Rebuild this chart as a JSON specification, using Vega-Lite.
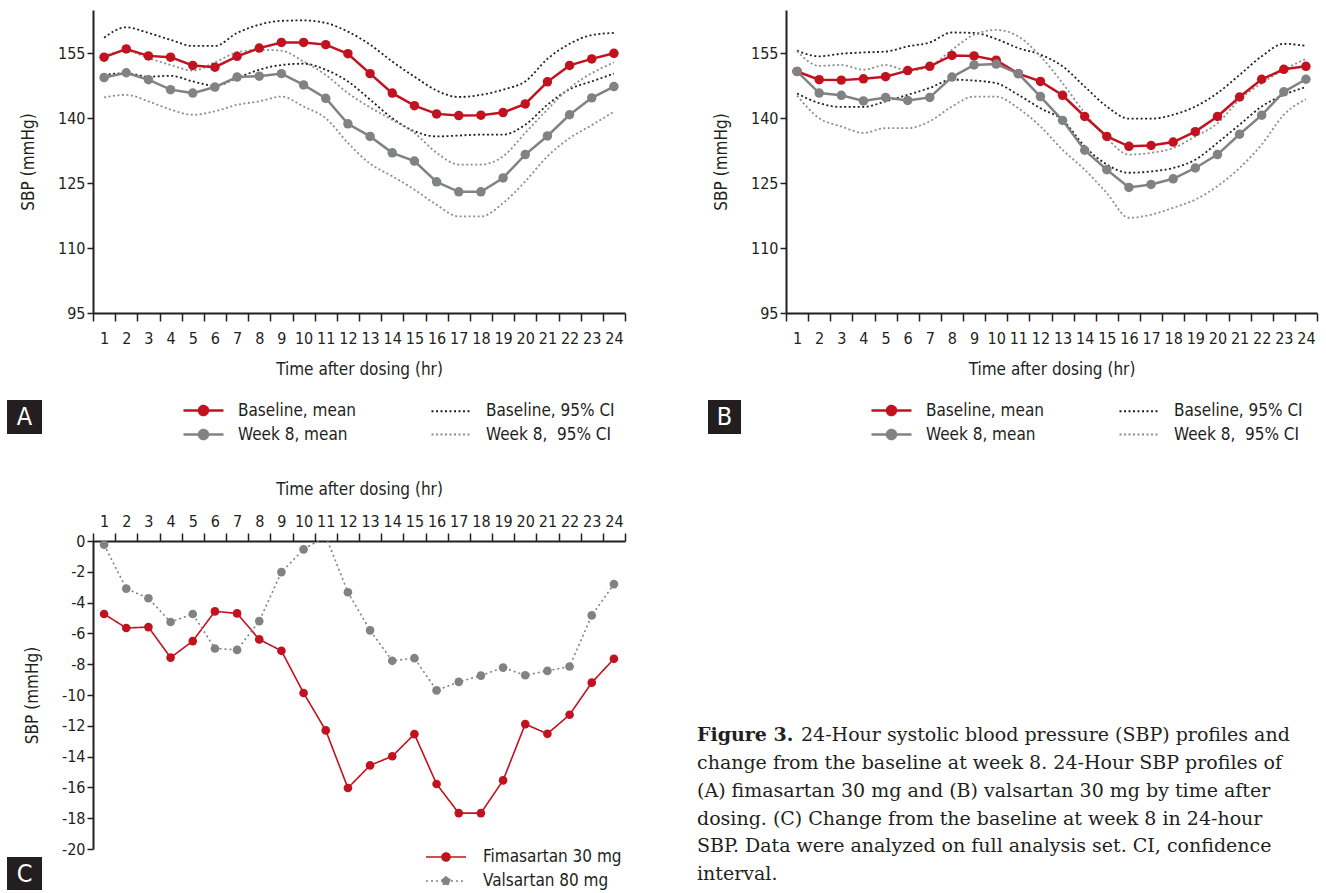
{
"$schema":"https://vega.github.io/schema/vega-lite/v6.json",
"background":"white",
"padding":{"left":7,"top":10,"right":2,"bottom":2},
"bounds":"flush",
"columns":5,
"align":{"row":"each","column":"each"},
"spacing":{"row":87,"column":0},
"resolve":{"scale":{"x":"independent","y":"independent","color":"independent","strokeDash":"independent"},"legend":{"color":"independent"}},
"config":{
 "view":{"stroke":null},
 "font":"Liberation Sans Narrow, DejaVu Sans Condensed, sans-serif",
 "axis":{"domainColor":"#231f20","domainWidth":2,"tickColor":"#231f20","tickWidth":1.5,"labelColor":"#231f20","labelFont":"Liberation Sans Narrow, DejaVu Sans Condensed, sans-serif","labelFontSize":16,"titleFont":"Liberation Sans Narrow, DejaVu Sans Condensed, sans-serif","titleFontSize":17,"titleFontWeight":"normal","titleColor":"#231f20","grid":false},
 "legend":{"labelFont":"Liberation Sans Narrow, DejaVu Sans Condensed, sans-serif","labelFontSize":17,"labelColor":"#231f20","padding":0,"labelLimit":400}
},
"datasets":{
 "A":[
  {"h":1,"bm":154.1,"wm":149.4,"bl":150.0,"bu":158.6,"wl":144.8,"wu":154.3},
  {"h":2,"bm":156.0,"wm":150.5,"bl":150.4,"bu":161.0,"wl":145.4,"wu":155.6},
  {"h":3,"bm":154.4,"wm":148.9,"bl":149.6,"bu":159.7,"wl":143.9,"wu":153.9},
  {"h":4,"bm":154.1,"wm":146.6,"bl":149.8,"bu":158.1,"wl":142.0,"wu":152.3},
  {"h":5,"bm":152.2,"wm":145.8,"bl":148.5,"bu":156.7,"wl":140.8,"wu":151.0},
  {"h":6,"bm":151.8,"wm":147.2,"bl":147.5,"bu":156.7,"wl":141.6,"wu":152.9},
  {"h":7,"bm":154.3,"wm":149.5,"bl":149.3,"bu":159.7,"wl":143.1,"wu":155.2},
  {"h":8,"bm":156.2,"wm":149.7,"bl":151.2,"bu":161.6,"wl":143.9,"wu":155.8},
  {"h":9,"bm":157.5,"wm":150.3,"bl":152.3,"bu":162.5,"wl":145.0,"wu":155.6},
  {"h":10,"bm":157.5,"wm":147.7,"bl":152.6,"bu":162.6,"wl":142.7,"wu":153.1},
  {"h":11,"bm":157.0,"wm":144.6,"bl":151.2,"bu":162.0,"wl":140.0,"wu":150.0},
  {"h":12,"bm":154.9,"wm":138.7,"bl":148.5,"bu":160.0,"wl":134.3,"wu":145.8},
  {"h":13,"bm":150.3,"wm":135.8,"bl":144.3,"bu":157.0,"wl":129.5,"wu":142.5},
  {"h":14,"bm":145.8,"wm":132.0,"bl":140.0,"bu":153.1,"wl":126.6,"wu":139.6},
  {"h":15,"bm":142.9,"wm":130.1,"bl":137.0,"bu":149.6,"wl":123.5,"wu":136.6},
  {"h":16,"bm":141.0,"wm":125.3,"bl":135.8,"bu":146.4,"wl":120.0,"wu":132.0},
  {"h":17,"bm":140.6,"wm":123.0,"bl":136.0,"bu":144.9,"wl":117.3,"wu":129.3},
  {"h":18,"bm":140.7,"wm":123.0,"bl":136.2,"bu":145.4,"wl":117.3,"wu":129.3},
  {"h":19,"bm":141.3,"wm":126.2,"bl":136.2,"bu":146.6,"wl":120.4,"wu":131.2},
  {"h":20,"bm":143.3,"wm":131.6,"bl":138.5,"bu":148.5,"wl":125.4,"wu":136.6},
  {"h":21,"bm":148.4,"wm":135.9,"bl":143.1,"bu":153.7,"wl":131.2,"wu":142.0},
  {"h":22,"bm":152.2,"wm":140.8,"bl":146.7,"bu":157.2,"wl":135.4,"wu":147.0},
  {"h":23,"bm":153.7,"wm":144.7,"bl":148.5,"bu":159.2,"wl":138.4,"wu":150.4},
  {"h":24,"bm":155.0,"wm":147.3,"bl":150.3,"bu":159.7,"wl":141.5,"wu":152.9}
 ],
 "B":[
  {"h":1,"bm":150.8,"wm":150.8,"bl":145.7,"bu":155.6,"wl":145.2,"wu":155.5},
  {"h":2,"bm":148.9,"wm":145.8,"bl":143.5,"bu":154.3,"wl":140.0,"wu":152.1},
  {"h":3,"bm":148.8,"wm":145.3,"bl":142.6,"bu":154.9,"wl":138.1,"wu":152.3},
  {"h":4,"bm":149.1,"wm":144.0,"bl":142.6,"bu":155.2,"wl":136.6,"wu":151.2},
  {"h":5,"bm":149.6,"wm":144.8,"bl":143.9,"bu":155.4,"wl":137.7,"wu":152.3},
  {"h":6,"bm":151.0,"wm":144.1,"bl":145.4,"bu":156.6,"wl":137.7,"wu":151.0},
  {"h":7,"bm":152.0,"wm":144.8,"bl":147.0,"bu":157.5,"wl":139.3,"wu":152.0},
  {"h":8,"bm":154.5,"wm":149.5,"bl":148.9,"bu":159.8,"wl":142.7,"wu":155.8},
  {"h":9,"bm":154.4,"wm":152.3,"bl":148.7,"bu":159.7,"wl":145.0,"wu":159.3},
  {"h":10,"bm":153.4,"wm":152.5,"bl":148.1,"bu":158.3,"wl":145.0,"wu":160.4},
  {"h":11,"bm":150.3,"wm":150.3,"bl":145.4,"bu":156.2,"wl":142.3,"wu":158.9},
  {"h":12,"bm":148.5,"wm":145.0,"bl":142.3,"bu":154.7,"wl":138.1,"wu":154.3},
  {"h":13,"bm":145.3,"wm":139.5,"bl":139.6,"bu":152.0,"wl":132.7,"wu":148.1},
  {"h":14,"bm":140.4,"wm":132.6,"bl":133.5,"bu":147.3,"wl":128.1,"wu":141.2},
  {"h":15,"bm":135.8,"wm":128.1,"bl":129.3,"bu":142.7,"wl":122.7,"wu":135.4},
  {"h":16,"bm":133.5,"wm":124.0,"bl":127.4,"bu":139.9,"wl":117.0,"wu":131.6},
  {"h":17,"bm":133.7,"wm":124.7,"bl":127.7,"bu":139.9,"wl":117.7,"wu":132.0},
  {"h":18,"bm":134.5,"wm":126.0,"bl":128.5,"bu":140.8,"wl":119.3,"wu":133.1},
  {"h":19,"bm":136.9,"wm":128.5,"bl":130.4,"bu":142.7,"wl":121.2,"wu":135.8},
  {"h":20,"bm":140.4,"wm":131.6,"bl":134.3,"bu":145.8,"wl":124.3,"wu":138.8},
  {"h":21,"bm":144.9,"wm":136.3,"bl":138.5,"bu":150.0,"wl":128.5,"wu":144.3},
  {"h":22,"bm":149.0,"wm":140.7,"bl":142.7,"bu":154.3,"wl":133.9,"wu":148.1},
  {"h":23,"bm":151.3,"wm":146.1,"bl":145.4,"bu":157.2,"wl":140.8,"wu":151.2},
  {"h":24,"bm":152.0,"wm":149.0,"bl":147.2,"bu":156.7,"wl":144.4,"wu":153.7}
 ],
 "C":[
  {"h":1,"f":-4.74,"v":-0.24},{"h":2,"f":-5.65,"v":-3.09},{"h":3,"f":-5.59,"v":-3.72},{"h":4,"f":-7.57,"v":-5.26},
  {"h":5,"f":-6.5,"v":-4.74},{"h":6,"f":-4.57,"v":-6.98},{"h":7,"f":-4.7,"v":-7.07},{"h":8,"f":-6.39,"v":-5.2},
  {"h":9,"f":-7.13,"v":-2.02},{"h":10,"f":-9.87,"v":-0.54},{"h":11,"f":-12.3,"v":0.3},{"h":12,"f":-16.04,"v":-3.33},
  {"h":13,"f":-14.57,"v":-5.8},{"h":14,"f":-13.98,"v":-7.78},{"h":15,"f":-12.54,"v":-7.61},{"h":16,"f":-15.78,"v":-9.7},
  {"h":17,"f":-17.67,"v":-9.15},{"h":18,"f":-17.67,"v":-8.74},{"h":19,"f":-15.54,"v":-8.22},{"h":20,"f":-11.89,"v":-8.72},
  {"h":21,"f":-12.52,"v":-8.43},{"h":22,"f":-11.28,"v":-8.15},{"h":23,"f":-9.2,"v":-4.83},{"h":24,"f":-7.65,"v":-2.8}
 ],
 "cap":[
  {"ln":1,"k":"lab","t":"Figure 3."},
  {"ln":1,"k":"first","t":"24-Hour systolic blood pressure (SBP) profiles and"},
  {"ln":2,"k":"body","t":"change from the baseline at week 8. 24-Hour SBP profiles of"},
  {"ln":3,"k":"body","t":"(A) fimasartan 30 mg and (B) valsartan 30 mg by time after"},
  {"ln":4,"k":"body","t":"dosing. (C) Change from the baseline at week 8 in 24-hour"},
  {"ln":5,"k":"body","t":"SBP. Data were analyzed on full analysis set. CI, confidence"},
  {"ln":6,"k":"body","t":"interval."}
 ]
},
"concat":[
 {"width":86,"height":1,"data":{"values":[]},"mark":"point"},
 {"width":532,"height":303,"data":{"name":"A"},
  "encoding":{
   "x":{"field":"h","type":"ordinal","scale":{"type":"band","paddingInner":0,"paddingOuter":0},"axis":{"title":"Time after dosing (hr)","labelAngle":0,"tickBand":"extent","tickSize":8,"labelPadding":9,"titlePadding":15}},
   "y":{"field":"value","type":"quantitative","scale":{"domain":[95,165],"nice":false,"zero":false},"axis":{"title":"SBP (mmHg)","values":[95,110,125,140,155],"tickSize":6,"labelPadding":2,"titlePadding":20}},
   "color":{"field":"key","type":"nominal","scale":{"domain":["bm","bl","wm","wl","bu","wu"],"range":["#c1121f","#231f20","#808285","#8d8d8f","#231f20","#8d8d8f"]},
    "legend":{"title":null,"orient":"none","legendX":102,"legendY":392,"columns":2,"values":["bm","wm","bl","wl"],
     "labelExpr":"datum.value == 'bm' ? 'Baseline, mean' : datum.value == 'bl' ? 'Baseline, 95% CI' : datum.value == 'wm' ? 'Week 8, mean' : 'Week 8, \u00a095% CI'",
     "symbolSize":400,"labelOffset":26,"columnPadding":71,"rowPadding":5,
     "encode":{"symbols":{"update":{
      "shape":{"signal":"datum.value == 'bm' || datum.value == 'wm' ? 'M-2,0H2M-0.45,0A0.45,0.45,0,1,1,0.45,0A0.45,0.45,0,1,1,-0.45,0Z' : 'M-2,0H2'"},
      "stroke":{"signal":"datum.value == 'bm' ? '#c1121f' : datum.value == 'wm' ? '#808285' : datum.value == 'bl' ? '#231f20' : '#8d8d8f'"},
      "fill":{"signal":"datum.value == 'bm' ? '#c1121f' : '#808285'"},
      "strokeDash":{"signal":"datum.value == 'bl' || datum.value == 'wl' ? [2,2.5] : [1,0]"},
      "strokeWidth":{"signal":"datum.value == 'bm' || datum.value == 'wm' ? 2.5 : 1.8"},
      "opacity":{"value":1}}}}}}
  },
  "layer":[
   {"transform":[{"fold":["bl","bu","wl","wu"]}],"mark":{"type":"line","interpolate":"monotone","strokeWidth":1.8,"strokeDash":[2,2.5]}},
   {"transform":[{"fold":["bm","wm"]}],"mark":{"type":"line","strokeWidth":2.5,"point":{"filled":true,"size":90,"opacity":1}}}
  ]},
 {"width":11,"height":1,"data":{"values":[]},"mark":"point"},
 {"width":78,"height":1,"data":{"values":[]},"mark":"point"},
 {"width":531,"height":303,"data":{"name":"B"},
  "encoding":{
   "x":{"field":"h","type":"ordinal","scale":{"type":"band","paddingInner":0,"paddingOuter":0},"axis":{"title":"Time after dosing (hr)","labelAngle":0,"tickBand":"extent","tickSize":8,"labelPadding":9,"titlePadding":15}},
   "y":{"field":"value","type":"quantitative","scale":{"domain":[95,165],"nice":false,"zero":false},"axis":{"title":"SBP (mmHg)","values":[95,110,125,140,155],"tickSize":6,"labelPadding":2,"titlePadding":20}},
   "color":{"field":"key","type":"nominal","scale":{"domain":["bm","bl","wm","wl","bu","wu"],"range":["#c1121f","#231f20","#808285","#8d8d8f","#231f20","#8d8d8f"]},
    "legend":{"title":null,"orient":"none","legendX":97,"legendY":392,"columns":2,"values":["bm","wm","bl","wl"],
     "labelExpr":"datum.value == 'bm' ? 'Baseline, mean' : datum.value == 'bl' ? 'Baseline, 95% CI' : datum.value == 'wm' ? 'Week 8, mean' : 'Week 8, \u00a095% CI'",
     "symbolSize":400,"labelOffset":26,"columnPadding":71,"rowPadding":5,
     "encode":{"symbols":{"update":{
      "shape":{"signal":"datum.value == 'bm' || datum.value == 'wm' ? 'M-2,0H2M-0.45,0A0.45,0.45,0,1,1,0.45,0A0.45,0.45,0,1,1,-0.45,0Z' : 'M-2,0H2'"},
      "stroke":{"signal":"datum.value == 'bm' ? '#c1121f' : datum.value == 'wm' ? '#808285' : datum.value == 'bl' ? '#231f20' : '#8d8d8f'"},
      "fill":{"signal":"datum.value == 'bm' ? '#c1121f' : '#808285'"},
      "strokeDash":{"signal":"datum.value == 'bl' || datum.value == 'wl' ? [2,2.5] : [1,0]"},
      "strokeWidth":{"signal":"datum.value == 'bm' || datum.value == 'wm' ? 2.5 : 1.8"},
      "opacity":{"value":1}}}}}}
  },
  "layer":[
   {"transform":[{"fold":["bl","bu","wl","wu"]}],"mark":{"type":"line","interpolate":"monotone","strokeWidth":1.8,"strokeDash":[2,2.5]}},
   {"transform":[{"fold":["bm","wm"]}],"mark":{"type":"line","strokeWidth":2.5,"point":{"filled":true,"size":90,"opacity":1}}}
  ]},
 {"width":35,"height":54,"data":{"values":[{"t":"A"}]},
  "encoding":{"x":{"field":"t","type":"nominal","scale":{"type":"band","paddingInner":0,"paddingOuter":0},"axis":null},
   "y":{"field":"t","type":"nominal","scale":{"type":"band","paddingInner":0,"paddingOuter":0.294,"align":0},"axis":null}},
  "layer":[{"mark":{"type":"rect","color":"#231f20"}},{"mark":{"type":"text","color":"white","fontSize":25,"baseline":"middle","align":"center"},"encoding":{"text":{"field":"t"}}}]},
 {"width":604,"height":1,"data":{"values":[]},"mark":"point"},
 {"width":1,"height":1,"data":{"values":[]},"mark":"point"},
 {"width":33,"height":54,"data":{"values":[{"t":"B"}]},
  "encoding":{"x":{"field":"t","type":"nominal","scale":{"type":"band","paddingInner":0,"paddingOuter":0},"axis":null},
   "y":{"field":"t","type":"nominal","scale":{"type":"band","paddingInner":0,"paddingOuter":0.294,"align":0},"axis":null}},
  "layer":[{"mark":{"type":"rect","color":"#231f20"}},{"mark":{"type":"text","color":"white","fontSize":25,"baseline":"middle","align":"center"},"encoding":{"text":{"field":"t"}}}]},
 {"width":1,"height":1,"data":{"values":[]},"mark":"point"},
 {"width":86,"height":349,"data":{"values":[{"t":"C"}]},
  "encoding":{"x":{"field":"t","type":"nominal","scale":{"type":"band","paddingInner":0,"paddingOuter":0.7286,"align":0},"axis":null},
   "y":{"field":"t","type":"nominal","scale":{"type":"band","domain":["0","1","2","3","4","5","6","7","8","C"],"paddingInner":0,"paddingOuter":0.288,"align":1},"axis":null}},
  "layer":[{"mark":{"type":"rect","color":"#231f20"}},{"mark":{"type":"text","color":"white","fontSize":25,"baseline":"middle","align":"center"},"encoding":{"text":{"field":"t"}}}]},
 {"width":532,"height":308,"data":{"name":"C"},
  "transform":[{"fold":["f","v"]}],
  "encoding":{
   "x":{"field":"h","type":"ordinal","scale":{"type":"band","paddingInner":0,"paddingOuter":0},"axis":{"orient":"top","title":"Time after dosing (hr)","labelAngle":0,"tickBand":"extent","tickSize":8,"labelPadding":4,"titlePadding":15}},
   "y":{"field":"value","type":"quantitative","scale":{"domain":[-20,0],"nice":false,"zero":false},"axis":{"title":"SBP (mmHg)","values":[-20,-18,-16,-14,-12,-10,-8,-6,-4,-2,0],"labelExpr":"'' + datum.value","tickSize":6,"labelPadding":2,"titlePadding":20}},
   "color":{"field":"key","type":"nominal","scale":{"domain":["f","v"],"range":["#c1121f","#808285"]},
    "legend":{"title":null,"orient":"none","legendX":342,"legendY":305,"direction":"vertical",
     "labelExpr":"datum.value == 'f' ? 'Fimasartan 30 mg' : 'Valsartan 80 mg'",
     "symbolSize":400,"labelOffset":26,"rowPadding":5,
     "encode":{"symbols":{"update":{
      "shape":{"value":"M-2,0H2M-0.4,0A0.4,0.4,0,1,1,0.4,0A0.4,0.4,0,1,1,-0.4,0Z"},
      "stroke":{"signal":"datum.value == 'f' ? '#231f20' : '#8d8d8f'"},
      "fill":{"signal":"datum.value == 'f' ? '#c1121f' : '#808285'"},
      "strokeDash":{"signal":"datum.value == 'v' ? [2,2.5] : [1,0]"},
      "strokeWidth":{"value":1.6},
      "opacity":{"value":1}}}}}},
   "strokeDash":{"field":"key","type":"nominal","scale":{"domain":["f","v"],"range":[[1,0],[2,3]]},"legend":null}
  },
  "layer":[
   {"mark":{"type":"line","strokeWidth":1.6,"clip":true}},
   {"mark":{"type":"point","filled":true,"size":75,"opacity":1,"clip":true}}
  ]},
 {"width":11,"height":349,"data":{"name":"cap"},
  "encoding":{
   "y":{"field":"ln","type":"quantitative","scale":{"domain":[-5.98,6.57],"reverse":true,"nice":false,"zero":false},"axis":null},
   "x":{"datum":0,"type":"quantitative","scale":{"domain":[0,1],"nice":false},"axis":null},
   "text":{"field":"t"}
  },
  "layer":[
   {"transform":[{"filter":"datum.k == 'lab'"}],"mark":{"type":"text","align":"left","baseline":"middle","font":"DejaVu Serif","fontSize":19,"fontWeight":"bold","color":"#231f20"}},
   {"transform":[{"filter":"datum.k == 'first'"}],"mark":{"type":"text","align":"left","baseline":"middle","font":"DejaVu Serif","fontSize":19,"dx":104,"color":"#231f20"}},
   {"transform":[{"filter":"datum.k == 'body'"}],"mark":{"type":"text","align":"left","baseline":"middle","font":"DejaVu Serif","fontSize":19,"color":"#231f20"}}
  ]}
]
}
